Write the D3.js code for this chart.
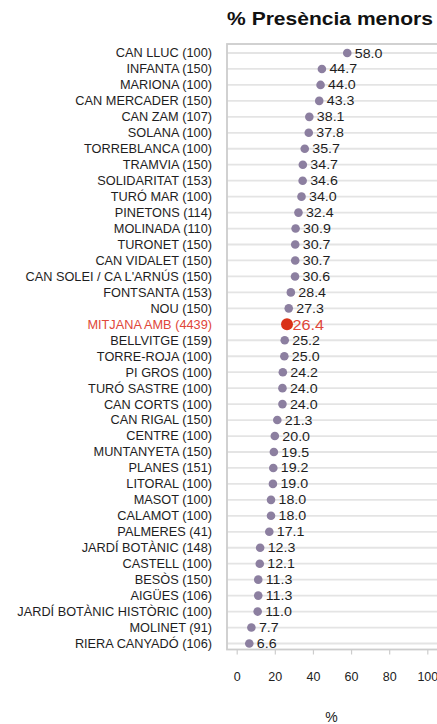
<!DOCTYPE html>
<html><head><meta charset="utf-8">
<script src="https://cdn.jsdelivr.net/npm/d3@7"></script>
<style>body{margin:0;background:#fff}svg{display:block;font-family:"Liberation Sans",Arial,sans-serif}</style>
</head><body>
<script>
const categories = ["CAN LLUC (100)","INFANTA (150)","MARIONA (100)","CAN MERCADER (150)","CAN ZAM (107)","SOLANA (100)","TORREBLANCA (100)","TRAMVIA (150)","SOLIDARITAT (153)","TURÓ MAR (100)","PINETONS (114)","MOLINADA (110)","TURONET (150)","CAN VIDALET (150)","CAN SOLEI / CA L'ARNÚS (150)","FONTSANTA (153)","NOU (150)","MITJANA AMB (4439)","BELLVITGE (159)","TORRE-ROJA (100)","PI GROS (100)","TURÓ SASTRE (100)","CAN CORTS (100)","CAN RIGAL (150)","CENTRE (100)","MUNTANYETA (150)","PLANES (151)","LITORAL (100)","MASOT (100)","CALAMOT (100)","PALMERES (41)","JARDÍ BOTÀNIC (148)","CASTELL (100)","BESÒS (150)","AIGÜES (106)","JARDÍ BOTÀNIC HISTÒRIC (100)","MOLINET (91)","RIERA CANYADÓ (106)"];
const values = [58.0,44.7,44.0,43.3,38.1,37.8,35.7,34.7,34.6,34.0,32.4,30.9,30.7,30.7,30.6,28.4,27.3,26.4,25.2,25.0,24.2,24.0,24.0,21.3,20.0,19.5,19.2,19.0,18.0,18.0,17.1,12.3,12.1,11.3,11.3,11.0,7.7,6.6];
const highlight = "MITJANA AMB (4439)";
const xTicks = [0,20,40,60,80,100];
const title = "% Presència menors";
const xTitle = "%";

const W = 437, H = 724;
const svg = d3.select("body").append("svg").attr("width", W).attr("height", H);
const plotL = 227, plotT = 44, plotB = 649.5, plotR = 448;
const x = d3.scaleLinear().domain([0,100]).range([236.7,427.3]);
const y = d3.scalePoint().domain(categories).range([53, 643.5]);

// gridlines
svg.append("g").selectAll("line").data(categories).join("line")
  .attr("x1", plotL).attr("x2", plotR)
  .attr("y1", d=>y(d)).attr("y2", d=>y(d))
  .attr("stroke", "#e4e4e4").attr("stroke-width", 1.8);

// frame
svg.append("rect").attr("x", plotL).attr("y", plotT).attr("width", plotR-plotL).attr("height", plotB-plotT)
  .attr("fill","none").attr("stroke","#cdcdcd").attr("stroke-width",1.8);

// x axis
const ax = svg.append("g").attr("transform", `translate(0,${plotB})`)
  .call(d3.axisBottom(x).tickValues(xTicks).tickSize(5).tickPadding(18).tickFormat(d3.format("d")));
ax.select(".domain").remove();
ax.selectAll(".tick line").attr("stroke","#cdcdcd").attr("stroke-width",1.2);
ax.selectAll(".tick text").attr("font-size", 12.5).attr("fill","#222").attr("font-family","Liberation Sans, Arial, sans-serif");

// y labels
svg.append("g").selectAll("text").data(categories).join("text")
  .attr("transform", d=>`translate(212,${y(d)}) scale(1.045,1)`)
  .attr("dy","0.36em").attr("text-anchor","end")
  .attr("font-size", 12.2)
  .attr("fill", d=> d===highlight ? "#e0473a" : "#1e1e1e")
  .text(d=>d);

const data = categories.map((c,i)=>({c, v: values[i]}));
// dots
svg.append("g").selectAll("circle").data(data).join("circle")
  .attr("cx", d=>x(d.v)).attr("cy", d=>y(d.c))
  .attr("r", d=> d.c===highlight ? 6 : 4.3)
  .attr("fill", d=> d.c===highlight ? "#d93218" : "#8c7fa0");
// values
svg.append("g").selectAll("text").data(data).join("text")
  .attr("transform", d=>`translate(${x(d.v) + (d.c===highlight ? 5.5 : 7.5)},${y(d.c)}) scale(${d.c===highlight ? 1.12 : 1.13},1)`)
  .attr("dy","0.36em")
  .attr("font-size", d=> d.c===highlight ? 14.5 : 12.6)
  .attr("fill", d=> d.c===highlight ? "#e0473a" : "#1e1e1e")
  .text(d=>d3.format(".1f")(d.v));

svg.append("text").attr("transform","translate(330,24.5) scale(1.15,1)").attr("text-anchor","middle")
  .attr("font-size", 18.3).attr("font-weight","bold").attr("fill","#111").text(title);
svg.append("text").attr("x", 331.5).attr("y", 722).attr("text-anchor","middle")
  .attr("font-size", 14).attr("fill","#222").text(xTitle);
</script>
</body></html>
